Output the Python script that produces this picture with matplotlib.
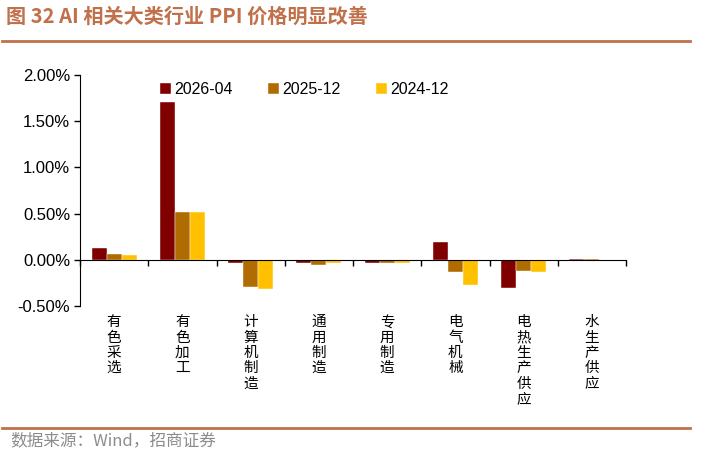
import numpy as np
import matplotlib.pyplot as plt
from matplotlib.ticker import FuncFormatter

plt.rcParams['font.family'] = ['Liberation Sans', 'Noto Sans CJK SC', 'DejaVu Sans']

# data (% change)
categories = ['有色采选', '有色加工', '计算机制造', '通用制造', '专用制造', '电气机械', '电热生产供应', '水生产供应']
series_names = ['2026-04', '2025-12', '2024-12']
v_2026_04 = [0.123, 1.71, -0.03, -0.036, -0.03, 0.196, -0.30, 0.006]
v_2025_12 = [0.065, 0.514, -0.29, -0.058, -0.04, -0.134, -0.12, 0.004]
v_2024_12 = [0.050, 0.520, -0.32, -0.036, -0.03, -0.275, -0.13, 0.003]
yticks = [-0.5, 0.0, 0.5, 1.0, 1.5, 2.0]

colors = ['#800000', '#B06C00', '#FFC000']
title_color = '#C0704A'

fig = plt.figure(figsize=(7.12, 4.68), dpi=100)
ax = fig.add_axes([80 / 712, 1 - 306 / 468, 546 / 712, 231 / 468])

x = np.arange(len(categories))
w = 0.22
for i, (vals, name) in enumerate(zip([v_2026_04, v_2025_12, v_2024_12], series_names)):
    ax.bar(x + (i - 1) * w, vals, width=w, color=colors[i], label=name,
           edgecolor='white', linewidth=0.3)

ax.set_xlim(-0.5, len(categories) - 0.5)
ax.set_ylim(-0.5, 2.0)
ax.set_yticks(yticks)
ax.yaxis.set_major_formatter(FuncFormatter(lambda v, p: f'{v:.2f}%'))
ax.tick_params(axis='y', labelsize=12, direction='out', length=4, width=1, pad=3)

# x axis line at zero with boundary ticks
ax.spines['top'].set_visible(False)
ax.spines['right'].set_visible(False)
ax.spines['bottom'].set_position(('data', 0))
ax.set_xticks(np.arange(len(categories) + 1) - 0.5)
ax.set_xticklabels([])
ax.tick_params(axis='x', direction='out', length=4, width=1)

for xi, name in zip(x, categories):
    ax.text(xi, -0.6, '\n'.join(name), ha='center', va='top', fontsize=10.5,
            family=['Noto Sans CJK SC'], linespacing=1.12)

ax.legend(loc='upper left', bbox_to_anchor=(0.12, 1.03), ncol=3, frameon=False,
          fontsize=11.5, handlelength=0.7, handleheight=0.7, handletextpad=0.2,
          columnspacing=2.2)

# title and rules
fig.text(6 / 712, 1 - 16 / 468, '图 32 AI 相关大类行业 PPI 价格明显改善', color=title_color,
         fontsize=14.5, fontweight='bold', va='center', ha='left',
         family=['Noto Sans CJK SC', 'DejaVu Sans'])
fig.add_artist(plt.Line2D([2 / 712, 690 / 712], [1 - 41 / 468] * 2, color=title_color, lw=2))
fig.add_artist(plt.Line2D([2 / 712, 690 / 712], [1 - 428 / 468] * 2, color=title_color, lw=2))
fig.text(10 / 712, 1 - 441 / 468, '数据来源：Wind，招商证券', color='#8C8C8C', fontsize=12,
         va='center', ha='left', family=['Noto Sans CJK SC', 'DejaVu Sans'])

fig.savefig('out.png', dpi=100)
